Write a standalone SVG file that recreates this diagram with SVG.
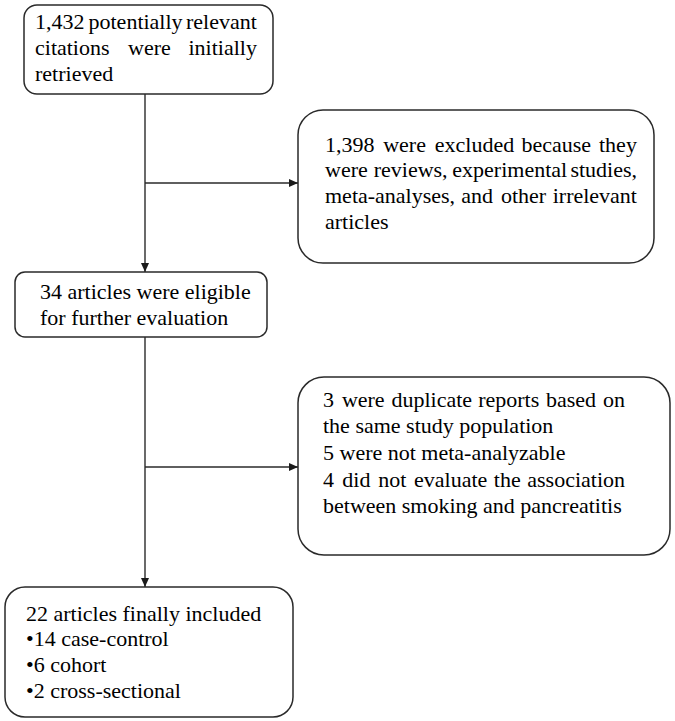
<svg xmlns="http://www.w3.org/2000/svg" width="675" height="721" viewBox="0 0 675 721">
<defs>
<marker id="ah" markerUnits="userSpaceOnUse" markerWidth="9" markerHeight="8" refX="9" refY="4" orient="auto">
<path d="M0,0 L9,4 L0,8 z" fill="#1a1a1a"/>
</marker>
</defs>
<rect width="675" height="721" fill="#fff"/>
<g id="connectors" stroke="#2a2a2a" stroke-width="1.4" fill="none">
<line x1="145" y1="94" x2="145" y2="272" marker-end="url(#ah)"/>
<line x1="145" y1="183" x2="298" y2="183" marker-end="url(#ah)"/>
<line x1="145" y1="337" x2="145" y2="587" marker-end="url(#ah)"/>
<line x1="145" y1="467" x2="298" y2="467" marker-end="url(#ah)"/>
</g>
<g id="n1">
<rect x="24" y="5" width="249" height="89" rx="13" fill="#fff" stroke="#2a2a2a" stroke-width="1.5"/>
<text font-family="Liberation Serif" font-size="22" y="29"><tspan x="35">1,432 </tspan><tspan x="88.5">potentially </tspan><tspan x="186">relevant</tspan></text>
<text font-family="Liberation Serif" font-size="22" y="55"><tspan x="35">citations </tspan><tspan x="128.1">were </tspan><tspan x="188.5">initially</tspan></text>
<text font-family="Liberation Serif" font-size="22" x="35" y="81">retrieved</text>
</g>
<g id="n2">
<rect x="298" y="110" width="356" height="153" rx="25" fill="#fff" stroke="#2a2a2a" stroke-width="1.5"/>
<text font-family="Liberation Serif" font-size="22" y="152"><tspan x="325">1,398 </tspan><tspan x="383.2">were </tspan><tspan x="434.8">excluded </tspan><tspan x="521.5">because </tspan><tspan x="599">they</tspan></text>
<text font-family="Liberation Serif" font-size="22" y="177"><tspan x="325">were </tspan><tspan x="373.7">reviews, </tspan><tspan x="452.3">experimental </tspan><tspan x="570.4">studies,</tspan></text>
<text font-family="Liberation Serif" font-size="22" y="203"><tspan x="325">meta-analyses, </tspan><tspan x="461.3">and </tspan><tspan x="500.9">other </tspan><tspan x="552.7">irrelevant</tspan></text>
<text font-family="Liberation Serif" font-size="22" x="325" y="229">articles</text>
</g>
<g id="n3">
<rect x="15" y="272" width="252" height="65" rx="10" fill="#fff" stroke="#2a2a2a" stroke-width="1.5"/>
<text font-family="Liberation Serif" font-size="22" x="40" y="299">34 articles were eligible</text>
<text font-family="Liberation Serif" font-size="22" x="40" y="325">for further evaluation</text>
</g>
<g id="n4">
<rect x="298" y="377" width="372" height="178" rx="26" fill="#fff" stroke="#2a2a2a" stroke-width="1.5"/>
<text font-family="Liberation Serif" font-size="22" y="407"><tspan x="323">3 </tspan><tspan x="341.9">were </tspan><tspan x="391.5">duplicate </tspan><tspan x="478.2">reports </tspan><tspan x="546">based </tspan><tspan x="603">on</tspan></text>
<text font-family="Liberation Serif" font-size="22" x="323" y="433">the same study population</text>
<text font-family="Liberation Serif" font-size="22" x="323" y="460">5 were not meta-analyzable</text>
<text font-family="Liberation Serif" font-size="22" y="487"><tspan x="323">4 </tspan><tspan x="342.3">did </tspan><tspan x="378.2">not </tspan><tspan x="414.1">evaluate </tspan><tspan x="493.8">the </tspan><tspan x="527.3">association</tspan></text>
<text font-family="Liberation Serif" font-size="22" x="323" y="513">between smoking and pancreatitis</text>
</g>
<g id="n5">
<rect x="5" y="587" width="288" height="130" rx="20" fill="#fff" stroke="#2a2a2a" stroke-width="1.5"/>
<text font-family="Liberation Serif" font-size="22" x="26" y="621">22 articles finally included</text>
<text font-family="Liberation Serif" font-size="22" x="26" y="646">•14 case-control</text>
<text font-family="Liberation Serif" font-size="22" x="26" y="672">•6 cohort</text>
<text font-family="Liberation Serif" font-size="22" x="26" y="698">•2 cross-sectional</text>
</g>
</svg>
